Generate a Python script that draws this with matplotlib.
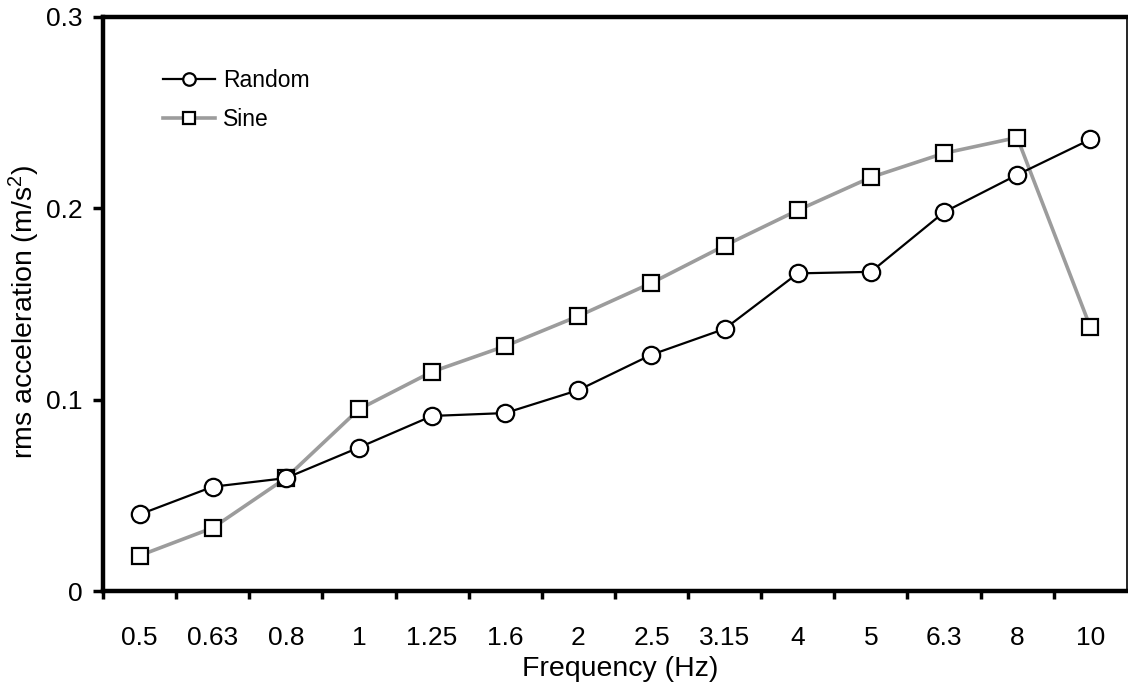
import matplotlib
matplotlib.use("Agg")
import matplotlib.pyplot as plt
from matplotlib.ticker import FixedLocator, NullFormatter, FixedFormatter

plt.rcParams['font.family'] = ['Liberation Sans', 'DejaVu Sans']
plt.rcParams['mathtext.fontset'] = 'custom'
plt.rcParams['mathtext.rm'] = 'Liberation Sans'
plt.rcParams['mathtext.it'] = 'Liberation Sans:italic'
plt.rcParams['mathtext.bf'] = 'Liberation Sans:bold'

frequencies = ["0.5", "0.63", "0.8", "1", "1.25", "1.6", "2", "2.5",
               "3.15", "4", "5", "6.3", "8", "10"]
random_rms = [0.040, 0.0545, 0.059, 0.075, 0.0915, 0.093, 0.105, 0.1235,
              0.137, 0.166, 0.1668, 0.198, 0.2175, 0.236]
sine_rms = [0.0185, 0.033, 0.059, 0.095, 0.1146, 0.128, 0.1437, 0.161,
            0.1805, 0.199, 0.2162, 0.2288, 0.237, 0.138]
y_ticks = [0, 0.1, 0.2, 0.3]
y_tick_labels = ["0", "0.1", "0.2", "0.3"]

fig = plt.figure(figsize=(11.28, 6.87), dpi=100)
ax = fig.add_axes([0.0913, 0.1397, 0.9077, 0.8356])

pos = list(range(len(frequencies)))

ax.plot(pos, sine_rms, color='#9c9c9c', lw=2.6, marker='s', markersize=12,
        markerfacecolor='white', markeredgecolor='black', markeredgewidth=1.6,
        label='Sine', zorder=2)
ax.plot(pos, random_rms, color='black', lw=1.6, marker='o', markersize=12.5,
        markerfacecolor='white', markeredgecolor='black', markeredgewidth=1.6,
        label='Random', zorder=3)

ax.set_xlim(-0.5, len(frequencies) - 0.5)
ax.set_ylim(0, 0.3)

# category boundaries carry the tick marks, category centres carry the labels
ax.xaxis.set_major_locator(FixedLocator([p - 0.5 for p in pos]))
ax.xaxis.set_major_formatter(NullFormatter())
ax.xaxis.set_minor_locator(FixedLocator(pos))
ax.xaxis.set_minor_formatter(FixedFormatter(frequencies))
ax.tick_params(axis='x', which='major', direction='out', length=6, width=2.5)
ax.tick_params(axis='x', which='minor', length=0, pad=25, labelsize=19)

ax.set_yticks(y_ticks)
ax.set_yticklabels(y_tick_labels)
ax.tick_params(axis='y', which='major', direction='out', length=7, width=2.5,
               pad=8, labelsize=19)

for side in ['left', 'bottom', 'top']:
    ax.spines[side].set_linewidth(3.2)
ax.spines['right'].set_linewidth(1.2)

ax.set_xlabel("Frequency (Hz)", fontsize=20.5)
ax.set_ylabel("rms acceleration (m/s$^2$)", fontsize=20.5)
ax.xaxis.set_label_coords(0.505, -0.113)
ax.yaxis.set_label_coords(-0.0596, 0.486)

handles, labels = ax.get_legend_handles_labels()
ax.legend(handles[::-1], labels[::-1], loc='upper left',
          bbox_to_anchor=(0.0586, 0.91), frameon=False, fontsize=16.5,
          handlelength=2.27, handletextpad=0.34, labelspacing=0.7,
          markerscale=0.72, borderpad=0, borderaxespad=0)

fig.savefig("out.png", dpi=100)
